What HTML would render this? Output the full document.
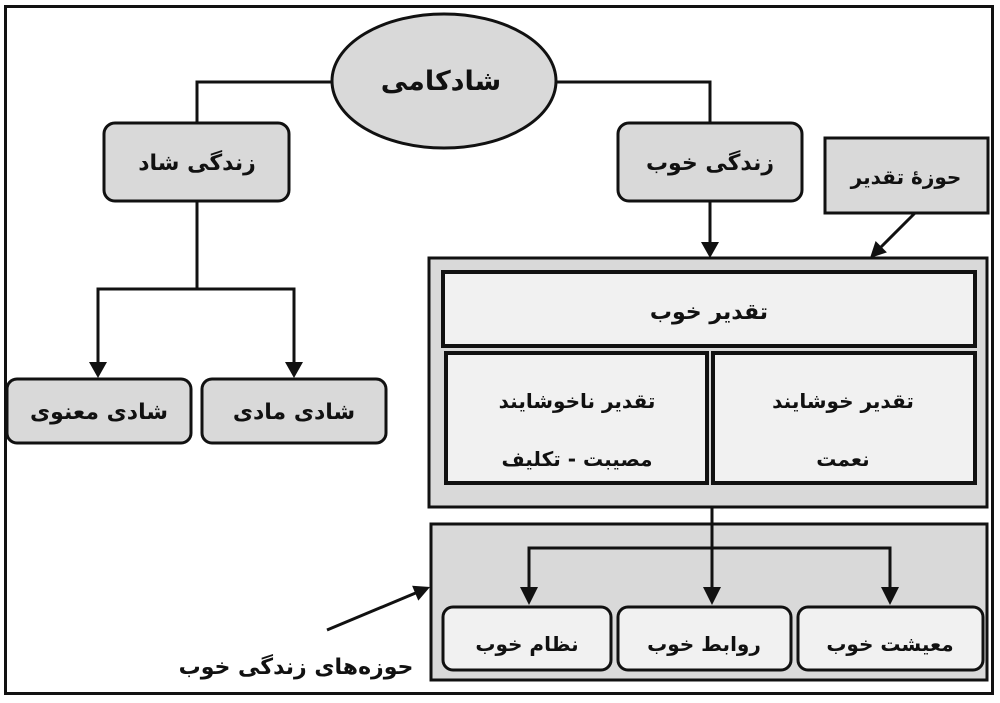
<!DOCTYPE html>
<html>
<head>
<meta charset="utf-8">
<style>
  html,body{margin:0;padding:0;background:#fff;}
  svg{display:block;}
  text{font-family:"DejaVu Sans","Liberation Sans",sans-serif;font-weight:bold;fill:#111;}
</style>
</head>
<body>
<svg width="1000" height="703" viewBox="0 0 1000 703" xmlns="http://www.w3.org/2000/svg">
  <!-- outer border -->
  <rect x="5.5" y="6.5" width="987" height="687" fill="#fff" stroke="#111" stroke-width="3"/>

  <!-- connectors from ellipse -->
  <polyline points="332,82 197,82 197,123" fill="none" stroke="#111" stroke-width="3"/>
  <polyline points="555,82 710,82 710,123" fill="none" stroke="#111" stroke-width="3"/>

  <!-- ellipse -->
  <ellipse cx="444" cy="81" rx="112" ry="67" fill="#d9d9d9" stroke="#111" stroke-width="3"/>
  <text x="441" y="90" font-size="27" text-anchor="middle" direction="rtl">شادکامی</text>

  <!-- زندگی شاد -->
  <rect x="104" y="123" width="185" height="78" rx="11" fill="#d9d9d9" stroke="#111" stroke-width="3"/>
  <text x="197" y="170" font-size="22" text-anchor="middle" direction="rtl">زندگی شاد</text>

  <!-- زندگی خوب -->
  <rect x="618" y="123" width="184" height="78" rx="11" fill="#d9d9d9" stroke="#111" stroke-width="3"/>
  <text x="710" y="170" font-size="22" text-anchor="middle" direction="rtl">زندگی خوب</text>

  <!-- left tree -->
  <line x1="197" y1="201" x2="197" y2="289" stroke="#111" stroke-width="3"/>
  <polyline points="98,364 98,289 294,289 294,364" fill="none" stroke="#111" stroke-width="3"/>
  <polygon points="89,362 107,362 98,378" fill="#111"/>
  <polygon points="285,362 303,362 294,378" fill="#111"/>

  <rect x="7" y="379" width="184" height="64" rx="10" fill="#d9d9d9" stroke="#111" stroke-width="3"/>
  <text x="99" y="419" font-size="22" text-anchor="middle" direction="rtl">شادی معنوی</text>
  <rect x="202" y="379" width="184" height="64" rx="10" fill="#d9d9d9" stroke="#111" stroke-width="3"/>
  <text x="294" y="419" font-size="22" text-anchor="middle" direction="rtl">شادی مادی</text>

  <!-- arrow from زندگی خوب -->
  <line x1="710" y1="201" x2="710" y2="244" stroke="#111" stroke-width="3"/>
  <polygon points="701,242 719,242 710,258" fill="#111"/>

  <!-- حوزهٔ تقدیر -->
  <rect x="825" y="138" width="163" height="75" fill="#d9d9d9" stroke="#111" stroke-width="3"/>
  <text x="906" y="184" font-size="20" text-anchor="middle" direction="rtl">حوزهٔ تقدیر</text>
  <line x1="915" y1="213" x2="880" y2="248" stroke="#111" stroke-width="3"/>
  <polygon points="886.9,252.4 875.6,241 870,258" fill="#111"/>

  <!-- big gray box -->
  <rect x="429" y="258" width="558" height="249" fill="#d9d9d9" stroke="#111" stroke-width="3"/>
  <rect x="443" y="272" width="532" height="74" fill="#f1f1f1" stroke="#111" stroke-width="4"/>
  <text x="709" y="319" font-size="22" text-anchor="middle" direction="rtl">تقدیر خوب</text>
  <rect x="446" y="353" width="261" height="130" fill="#f1f1f1" stroke="#111" stroke-width="4"/>
  <rect x="713" y="353" width="262" height="130" fill="#f1f1f1" stroke="#111" stroke-width="4"/>
  <text x="577" y="408" font-size="20" text-anchor="middle" direction="rtl">تقدیر ناخوشایند</text>
  <text x="577" y="466" font-size="20" text-anchor="middle" direction="rtl">مصیبت - تکلیف</text>
  <text x="843" y="408" font-size="20" text-anchor="middle" direction="rtl">تقدیر خوشایند</text>
  <text x="843" y="466" font-size="20" text-anchor="middle" direction="rtl">نعمت</text>

  <!-- connector between boxes -->
  <line x1="712" y1="507" x2="712" y2="524" stroke="#111" stroke-width="3"/>

  <!-- lower gray box -->
  <rect x="431" y="524" width="556" height="156" fill="#d9d9d9" stroke="#111" stroke-width="3"/>
  <line x1="712" y1="524" x2="712" y2="589" stroke="#111" stroke-width="3"/>
  <polyline points="529,589 529,548 890,548 890,589" fill="none" stroke="#111" stroke-width="3"/>
  <polygon points="520,587 538,587 529,605" fill="#111"/>
  <polygon points="703,587 721,587 712,605" fill="#111"/>
  <polygon points="881,587 899,587 890,605" fill="#111"/>

  <rect x="443" y="607" width="168" height="63" rx="10" fill="#f1f1f1" stroke="#111" stroke-width="3"/>
  <text x="527" y="651" font-size="20" text-anchor="middle" direction="rtl">نظام خوب</text>
  <rect x="618" y="607" width="173" height="63" rx="10" fill="#f1f1f1" stroke="#111" stroke-width="3"/>
  <text x="704" y="651" font-size="20" text-anchor="middle" direction="rtl">روابط خوب</text>
  <rect x="798" y="607" width="185" height="63" rx="10" fill="#f1f1f1" stroke="#111" stroke-width="3"/>
  <text x="890" y="651" font-size="20" text-anchor="middle" direction="rtl">معیشت خوب</text>

  <!-- label arrow -->
  <line x1="327" y1="630" x2="418" y2="592" stroke="#111" stroke-width="3"/>
  <polygon points="418.3,600.6 412.1,585.8 430,587" fill="#111"/>
  <text x="296" y="674" font-size="22" text-anchor="middle" direction="rtl">حوزه‌های زندگی خوب</text>
</svg>
</body>
</html>
